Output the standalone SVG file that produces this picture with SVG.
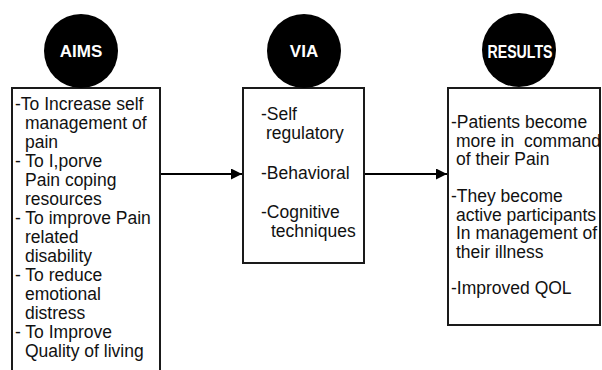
<svg xmlns="http://www.w3.org/2000/svg" width="602" height="370" viewBox="0 0 602 370">
  <style>
    .box { fill: #ffffff; stroke: #1a1a1a; stroke-width: 2; }
    .badge { fill: #000000; }
    .title { font-family: "Liberation Sans", Arial, sans-serif; font-weight: bold; fill: #ffffff; text-anchor: middle; }
    .body { font-family: "Liberation Sans", Arial, sans-serif; font-size: 17.5px; fill: #111111; }
    .conn { stroke: #000000; stroke-width: 2; fill: none; }
  </style>
  <defs>
    <marker id="arrow" viewBox="0 0 10 10" refX="10" refY="5" markerWidth="5.5" markerHeight="5.5" markerUnits="strokeWidth" orient="auto">
      <path d="M0,0 L10,5 L0,10 z" fill="#000000"/>
    </marker>
  </defs>

  <rect width="602" height="370" fill="#ffffff"/>

  <g id="connectors">
    <line class="conn" x1="160" y1="174" x2="242" y2="174" marker-end="url(#arrow)"/>
    <line class="conn" x1="364" y1="174" x2="447" y2="174" marker-end="url(#arrow)"/>
  </g>

  <g id="aims">
    <rect class="box" x="12" y="88" width="148" height="300"/>
    <circle class="badge" cx="81" cy="51" r="37"/>
    <text class="title" x="81" y="57" font-size="17">AIMS</text>
    <text class="body">
      <tspan x="15" y="110">-To Increase self</tspan>
      <tspan x="25" y="129">management of</tspan>
      <tspan x="25" y="148">pain</tspan>
      <tspan x="15" y="167">- To I,porve</tspan>
      <tspan x="25" y="186">Pain coping</tspan>
      <tspan x="25" y="205">resources</tspan>
      <tspan x="15" y="224">- To improve Pain</tspan>
      <tspan x="25" y="243">related</tspan>
      <tspan x="25" y="262">disability</tspan>
      <tspan x="15" y="281">- To reduce</tspan>
      <tspan x="25" y="300">emotional</tspan>
      <tspan x="25" y="319">distress</tspan>
      <tspan x="15" y="338">- To Improve</tspan>
      <tspan x="25" y="357">Quality of living</tspan>
    </text>
  </g>

  <g id="via">
    <rect class="box" x="243" y="88" width="121" height="175"/>
    <circle class="badge" cx="304" cy="51" r="37"/>
    <text class="title" x="304" y="57" font-size="17">VIA</text>
    <text class="body">
      <tspan x="261" y="120">-Self</tspan>
      <tspan x="266" y="139">regulatory</tspan>
      <tspan x="261" y="179">-Behavioral</tspan>
      <tspan x="261" y="218">-Cognitive</tspan>
      <tspan x="271" y="237">techniques</tspan>
    </text>
  </g>

  <g id="results">
    <rect class="box" x="448" y="88" width="152" height="237"/>
    <circle class="badge" cx="519" cy="50" r="37"/>
    <text class="title" x="520" y="58" font-size="19" textLength="65" lengthAdjust="spacingAndGlyphs">RESULTS</text>
    <text class="body" xml:space="preserve"><tspan x="451" y="128">-Patients become</tspan><tspan x="456" y="146.5">more in  command</tspan><tspan x="456" y="165">of their Pain</tspan><tspan x="451" y="202">-They become</tspan><tspan x="456" y="220.5">active participants</tspan><tspan x="456" y="239">In management of</tspan><tspan x="456" y="257.5">their illness</tspan><tspan x="451" y="294">-Improved QOL</tspan></text>
  </g>
</svg>
